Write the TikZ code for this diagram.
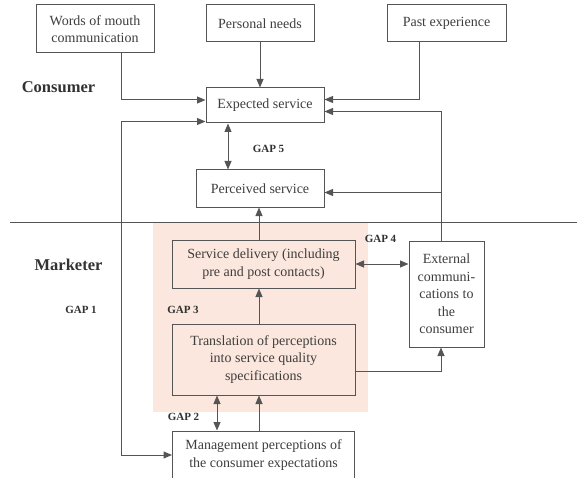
\documentclass[tikz,border=0pt]{standalone}
\usepackage{fontspec}
\setmainfont{Liberation Serif}
\usetikzlibrary{arrows.meta, positioning}
\definecolor{linegray}{RGB}{85, 85, 85}
\definecolor{textgray}{RGB}{62, 62, 62}
\definecolor{labelgray}{RGB}{50, 50, 50}
\definecolor{peach}{RGB}{251, 231, 221}
\tikzset{
    box/.style={rectangle, draw=linegray, fill=white, text=textgray, line width=1pt, align=center, inner sep=2pt, font=\fontsize{14}{17.5}\selectfont},
    shadedbox/.style={box, fill=peach},
    gaplabel/.style={text=labelgray, font=\fontsize{11}{13}\selectfont\bfseries},
    sidelabel/.style={text=labelgray, font=\fontsize{16.5}{19}\selectfont\bfseries},
    arrow/.style={-{Triangle[length=8.5pt, width=7pt]}, linegray, line width=1pt},
    twoway/.style={{Triangle[length=8.5pt, width=7pt]}-{Triangle[length=8.5pt, width=7pt]}, linegray, line width=1pt}
}
\begin{document}
\begin{tikzpicture}[x=1pt, y=-1pt]
            \useasboundingbox (0,0) rectangle (577,478);
            % marketer zone and divider
            \fill[peach] (153,222) rectangle (368,412);
            \draw[linegray, line width=1pt] (10,222) -- (577,222);

            \coordinate (leftrail) at (121,0);
            \coordinate (rightrail) at (441,0);
            \coordinate (pastdrop) at (419,0);
            \coordinate (gapfive) at (228,0);
            \coordinate (gaptwo) at (217,0);
            \coordinate (midrail) at (259,0);

            \node (words) [box, minimum width=118pt, minimum height=48pt] at (95,29) {Words of mouth\\communication};
            \node (personal) [box, minimum width=108pt, minimum height=37pt] at (260,23.5) {Personal needs};
            \node (past) [box, minimum width=119pt, minimum height=37pt] at (446.5,23.5) {Past experience};
            \node (expected) [box, minimum width=118pt, minimum height=35pt] at (265,105.5) {Expected service};
            \node (perceived) [box, minimum width=128pt, minimum height=37pt] at (260,188.5) {Perceived service};
            \node (delivery) [shadedbox, minimum width=183pt, minimum height=48pt] at (263.5,264) {Service delivery (including\\pre and post contacts)};
            \node (translation) [shadedbox, minimum width=183pt, minimum height=71pt, below=35pt of delivery] {Translation of perceptions\\into service quality\\specifications};
            \node (management) [box, minimum width=182pt, minimum height=48pt, below=35pt of translation] {Management perceptions of\\the consumer expectations};
            \node (external) [box, minimum width=75pt, minimum height=106pt] at (446.5,294) {External\\communi-\\cations to\\the\\consumer};

            \node (consumer) [sidelabel] at (58.5,87) {Consumer};
            \node (marketer) [sidelabel] at (68.5,265) {Marketer};
            \node (gap1) [gaplabel] at (81,310) {GAP 1};
            \node (gap2) [gaplabel] at (183.5,417) {GAP 2};
            \node (gap3) [gaplabel] at (183,310) {GAP 3};
            \node (gap4) [gaplabel] at (380.5,239) {GAP 4};
            \node (gap5) [gaplabel] at (268.5,149) {GAP 5};

            \draw [arrow] (words.south -| leftrail) |- ([yshift=5.5pt]expected.west);
            \draw [arrow] (personal.south) -- (personal.south |- expected.north);
            \draw [arrow] (past.south -| pastdrop) |- ([yshift=6pt]expected.east);
            \draw [arrow] (external.north -| rightrail) |- ([yshift=-6pt]expected.east);
            \draw [arrow] ([yshift=-4pt]perceived.east -| rightrail) -- ([yshift=-4pt]perceived.east);
            \draw [twoway] (expected.south -| gapfive) -- (perceived.north -| gapfive);
            \draw [twoway] ([yshift=-16pt]expected.west) -| (leftrail |- management.west) -- (management.west);
            \draw [arrow] (delivery.north -| midrail) -- (perceived.south -| midrail);
            \draw [arrow] (translation.north -| midrail) -- (delivery.south -| midrail);
            \draw [arrow] (management.north -| midrail) -- (translation.south -| midrail);
            \draw [twoway] (management.north -| gaptwo) -- (translation.south -| gaptwo);
            \draw [twoway] (delivery.east) -- (delivery.east -| external.west);
            \draw [arrow] ([yshift=-11.5pt]translation.east) -| (external.south -| rightrail);
        \end{tikzpicture}
\end{document}
